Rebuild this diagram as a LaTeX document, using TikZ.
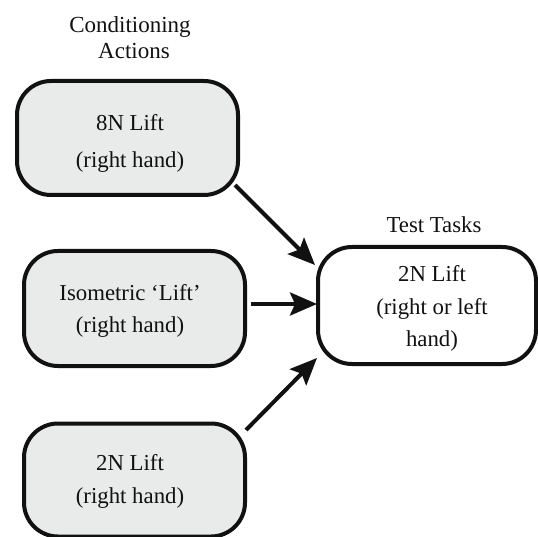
\documentclass[tikz,border=0pt]{standalone}
\usepackage{fontspec}
\setmainfont{Liberation Serif}
\usetikzlibrary{arrows.meta,calc}
\definecolor{boxgray}{RGB}{233,234,234}
\definecolor{ink}{RGB}{17,17,17}
\begin{document}
\begin{tikzpicture}[x=1pt,y=-1pt,
  box/.style={draw=ink,line width=4pt,rounded corners=34pt,outer sep=0pt,inner sep=0pt},
  gbox/.style={box,fill=boxgray},
  txt/.style={align=center,text=ink,inner sep=0pt,outer sep=0pt},
  arr/.style={draw=ink,line width=4pt,-{Stealth[length=27pt,width=23pt,inset=5pt]}}]
\useasboundingbox (0,0) rectangle (538,537);
% boxes
\node[gbox,minimum width=221pt,minimum height=114pt] (b1) at (127.5,138) {};
\node[gbox,minimum width=221pt,minimum height=115pt] (b2) at (134.5,308.5) {};
\node[gbox,minimum width=221pt,minimum height=113pt] (b3) at (134.5,480) {};
\node[box,fill=white,minimum width=218pt,minimum height=117pt] (t) at (427,305.5) {};
% texts
\node[txt,font=\fontsize{23}{26}\selectfont] (title) at (130,37.2) {Conditioning\\\hspace*{8pt}Actions};
\node[txt,font=\fontsize{22.8}{37}\selectfont] (b1t) at (130,143.5) {8N Lift\\(right hand)};
\node[txt,font=\fontsize{22.8}{32}\selectfont] (b2t) at (130,310.7) {Isometric ‘Lift’\\(right hand)};
\node[txt,font=\fontsize{22.8}{33}\selectfont] (b3t) at (130,481.2) {2N Lift\\(right hand)};
\node[txt,font=\fontsize{22.8}{26}\selectfont,anchor=base] (tt) at (434,233) {Test Tasks};
\node[txt,font=\fontsize{22.8}{32.5}\selectfont] (tbt) at (432,308.7) {2N Lift\\(right or left\\hand)};
% arrows
\draw[arr] ([shift={(-3,-10)}]b1.south east) -- ([shift={(-3,18)}]t.north west);
\draw[arr] ([shift={(6,-4.5)}]b2.east) -- ([shift={(-1,-1.5)}]t.west);
\draw[arr] ([shift={(1,6.5)}]b3.north east) -- ([shift={(-1,-6)}]t.south west);
\end{tikzpicture}
\end{document}
